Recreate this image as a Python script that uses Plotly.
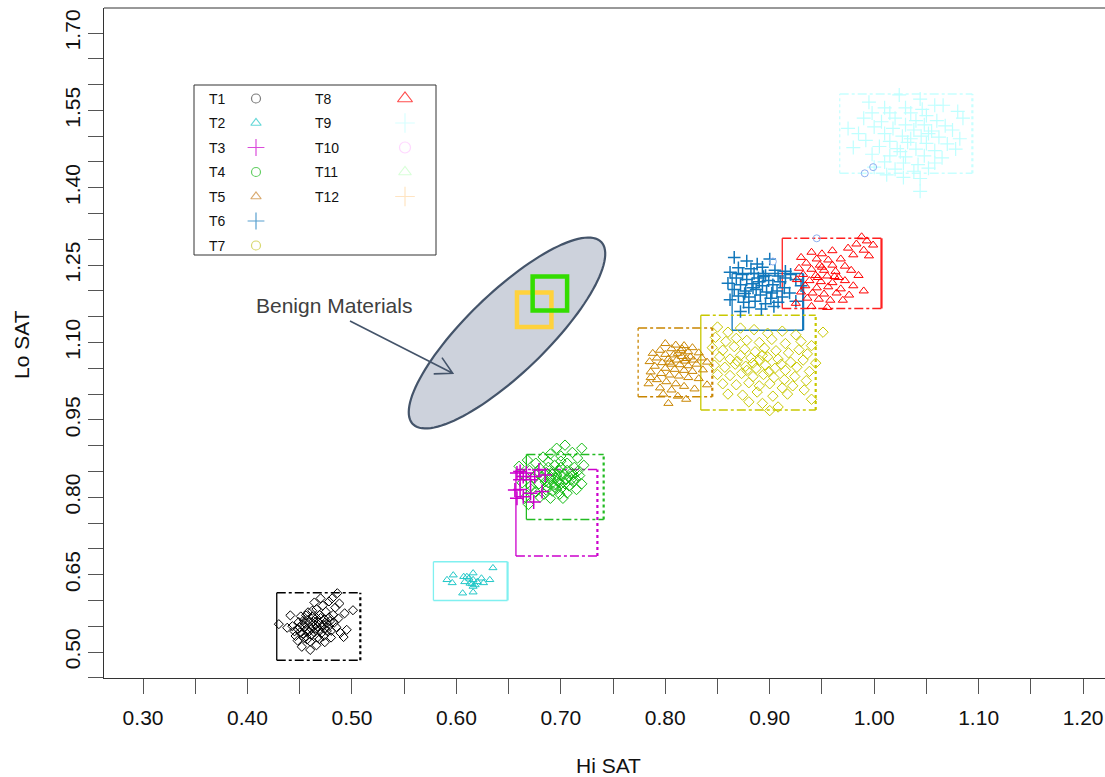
import numpy as np
import plotly.graph_objects as go

# ---------------- data ----------------
t1_x = [0.430,0.501,0.486,0.460,0.452,0.448,0.441,0.445,0.450,0.455,0.458,0.462,0.465,0.468,0.470,0.473,0.476,0.479,0.482,0.485,
        0.489,0.492,0.495,0.472,0.478,0.466,0.458,0.451,0.446,0.454,0.461,0.467,0.474,0.480,0.457,0.463,0.469,0.475,0.484,0.488,
        0.453,0.460,0.466,0.471,0.477,0.483,0.487,0.456,0.449,0.443,0.464,0.470,0.481,0.493,0.438,0.459,0.467,0.474,0.462,0.455,
        0.448,0.452,0.456,0.459,0.461,0.464,0.466,0.468,0.471,0.473,0.476,0.478,0.480,0.454,0.462,0.469,0.457,0.474,0.465,0.450]
t1_y = [0.554,0.581,0.614,0.504,0.510,0.522,0.571,0.540,0.548,0.556,0.562,0.551,0.545,0.558,0.566,0.552,0.541,0.560,0.572,0.548,
        0.537,0.529,0.543,0.590,0.598,0.583,0.577,0.569,0.531,0.527,0.533,0.528,0.519,0.528,0.541,0.560,0.572,0.578,0.586,0.594,
        0.535,0.520,0.513,0.537,0.548,0.557,0.565,0.571,0.558,0.550,0.596,0.604,0.604,0.575,0.547,0.540,0.549,0.563,0.569,0.548,
        0.545,0.553,0.530,0.558,0.545,0.538,0.566,0.542,0.550,0.531,0.556,0.567,0.541,0.562,0.580,0.525,0.524,0.545,0.552,0.538]

t2_x = [0.591,0.597,0.596,0.607,0.616,0.608,0.613,0.616,0.624,0.626,0.632,0.635,0.606,0.616,0.616,0.612,0.620,0.610,0.615,0.618]
t2_y = [0.640,0.649,0.634,0.646,0.653,0.636,0.633,0.640,0.643,0.634,0.640,0.663,0.614,0.616,0.627,0.643,0.636,0.646,0.632,0.630]

t3_x = [0.658,0.661,0.664,0.656,0.658,0.661,0.667,0.671,0.674,0.675,0.671,0.682,0.664,0.685,0.679,0.661]
t3_y = [0.847,0.850,0.840,0.814,0.798,0.815,0.847,0.834,0.791,0.840,0.808,0.811,0.801,0.843,0.853,0.834]

t4_x = [0.704,0.696,0.720,0.711,0.690,0.683,0.700,0.716,0.668,0.676,0.688,0.694,0.706,0.713,0.722,0.660,0.670,0.680,0.686,0.698,
        0.703,0.710,0.718,0.665,0.674,0.682,0.690,0.697,0.705,0.712,0.720,0.663,0.671,0.679,0.687,0.694,0.701,0.708,0.715,0.676,
        0.684,0.692,0.699,0.706,0.690,0.702,0.669,0.680,0.696,0.700,0.685,0.692,0.708,0.678,0.714,0.696,0.672,0.688,0.700,0.666,
        0.690,0.695,0.700,0.688,0.698,0.704,0.684,0.692,0.706,0.712,0.694,0.686,0.710,0.700,0.716]
t4_y = [0.901,0.895,0.895,0.887,0.884,0.878,0.880,0.876,0.872,0.866,0.869,0.862,0.866,0.858,0.862,0.860,0.852,0.856,0.848,0.852,
        0.845,0.848,0.842,0.842,0.838,0.840,0.836,0.832,0.834,0.830,0.826,0.828,0.822,0.826,0.820,0.824,0.818,0.822,0.815,0.810,
        0.806,0.812,0.806,0.808,0.798,0.798,0.786,0.800,0.843,0.826,0.830,0.845,0.840,0.846,0.836,0.816,0.815,0.858,0.870,0.800,
        0.840,0.838,0.842,0.828,0.828,0.826,0.836,0.850,0.852,0.844,0.820,0.814,0.834,0.858,0.850]

t5_x = [0.800,0.810,0.818,0.826,0.806,0.795,0.815,0.822,0.832,0.788,0.800,0.808,0.816,0.824,0.835,0.792,0.803,0.811,0.819,0.827,
        0.785,0.797,0.806,0.814,0.822,0.830,0.840,0.790,0.800,0.809,0.818,0.826,0.836,0.786,0.796,0.804,0.813,0.822,0.832,0.792,
        0.801,0.810,0.784,0.795,0.806,0.818,0.828,0.840,0.798,0.812,0.820,0.803,0.786,0.812,0.820,0.804,0.816]
t5_y = [1.098,1.095,1.094,1.090,1.088,1.085,1.084,1.082,1.080,1.079,1.077,1.076,1.073,1.072,1.070,1.070,1.068,1.066,1.064,1.066,
        1.063,1.061,1.058,1.057,1.055,1.058,1.062,1.054,1.050,1.048,1.046,1.044,1.047,1.043,1.040,1.037,1.035,1.032,1.030,1.028,
        1.024,1.020,1.020,1.012,1.008,1.015,1.010,1.018,1.000,0.996,0.990,0.982,1.032,1.079,1.069,1.062,1.088]

t6_x = [0.866,0.878,0.900,0.888,0.870,0.882,0.893,0.905,0.915,0.862,0.874,0.885,0.896,0.908,0.920,0.868,0.878,0.889,0.899,0.910,
        0.925,0.860,0.872,0.883,0.893,0.903,0.914,0.930,0.866,0.877,0.887,0.897,0.907,0.919,0.870,0.880,0.891,0.901,0.912,0.862,
        0.875,0.886,0.896,0.908,0.880,0.892,0.904,0.872,0.925,0.890,0.884,0.894,0.902,0.876,0.915]
t6_y = [1.265,1.258,1.262,1.252,1.245,1.243,1.246,1.240,1.238,1.236,1.232,1.234,1.230,1.229,1.232,1.225,1.222,1.225,1.220,1.218,
        1.222,1.215,1.212,1.214,1.210,1.212,1.206,1.210,1.203,1.200,1.203,1.198,1.200,1.196,1.190,1.188,1.192,1.186,1.188,1.183,
        1.178,1.180,1.175,1.178,1.168,1.165,1.170,1.160,1.180,1.218,1.206,1.228,1.196,1.195,1.225]

t7_x = [0.850,0.860,0.872,0.885,0.898,0.912,0.925,0.951,0.848,0.858,0.868,0.878,0.890,0.902,0.915,0.930,0.940,0.845,0.855,0.866,
        0.876,0.886,0.895,0.906,0.918,0.928,0.936,0.852,0.862,0.872,0.882,0.890,0.898,0.908,0.920,0.932,0.944,0.847,0.857,0.867,
        0.877,0.887,0.896,0.905,0.915,0.926,0.938,0.850,0.862,0.873,0.884,0.894,0.904,0.914,0.924,0.935,0.855,0.868,0.880,0.890,
        0.900,0.912,0.922,0.933,0.860,0.874,0.888,0.903,0.917,0.880,0.893,0.900,0.908,0.940,0.884,0.893,0.878,0.899,0.869,0.911]
t7_y = [1.130,1.120,1.128,1.125,1.118,1.122,1.115,1.120,1.110,1.102,1.108,1.104,1.100,1.106,1.098,1.102,1.094,1.090,1.085,1.092,
        1.087,1.082,1.089,1.084,1.080,1.086,1.078,1.072,1.068,1.075,1.070,1.066,1.072,1.068,1.062,1.066,1.060,1.056,1.052,1.058,
        1.054,1.050,1.056,1.050,1.046,1.052,1.044,1.038,1.036,1.040,1.034,1.038,1.032,1.028,1.034,1.026,1.020,1.018,1.022,1.016,
        1.020,1.012,1.016,1.008,1.000,0.998,1.004,0.996,1.000,0.985,0.982,0.968,0.975,0.990,1.060,1.075,1.046,1.044,1.064,1.058]

t8_x = [0.988,0.993,0.983,0.999,0.975,0.990,0.980,0.995,0.960,0.950,0.940,0.930,0.945,0.956,0.968,0.935,0.948,0.960,0.972,0.928,
        0.940,0.952,0.963,0.978,0.932,0.944,0.955,0.966,0.985,0.926,0.938,0.949,0.960,0.972,0.934,0.945,0.956,0.968,0.980,0.930,
        0.941,0.952,0.964,0.976,0.936,0.947,0.958,0.990,0.925,0.940,0.955,0.970,0.946,0.950,0.962]
t8_y = [1.305,1.297,1.291,1.289,1.283,1.279,1.270,1.268,1.278,1.272,1.275,1.265,1.262,1.260,1.262,1.254,1.250,1.250,1.248,1.244,
        1.242,1.240,1.238,1.240,1.232,1.230,1.229,1.226,1.230,1.222,1.220,1.218,1.216,1.220,1.210,1.206,1.208,1.204,1.210,1.198,
        1.196,1.194,1.196,1.192,1.186,1.184,1.182,1.200,1.176,1.170,1.168,1.182,1.226,1.246,1.228]

t9_x = [1.024,1.044,0.995,1.058,1.066,1.010,1.030,1.046,1.080,0.998,1.015,1.035,1.050,1.085,0.990,1.020,1.040,1.060,1.007,1.030,
        1.048,1.068,0.975,1.000,1.018,1.038,1.055,1.075,0.985,1.010,1.027,1.045,1.062,1.082,0.992,1.015,1.032,1.050,1.070,0.980,
        1.005,1.022,1.040,1.058,1.078,0.998,1.015,1.030,1.048,1.065,1.010,1.028,1.042,1.058,1.020,1.038,1.052,1.000,1.028,1.044,
        1.012,1.044,1.035,1.025,1.052]
t9_y = [1.580,1.572,1.566,1.560,1.560,1.555,1.555,1.552,1.548,1.545,1.545,1.545,1.540,1.535,1.535,1.535,1.530,1.530,1.528,1.522,
        1.522,1.520,1.515,1.518,1.515,1.512,1.510,1.512,1.505,1.505,1.500,1.500,1.498,1.495,1.492,1.490,1.488,1.486,1.485,1.478,
        1.480,1.476,1.475,1.472,1.475,1.465,1.462,1.460,1.462,1.458,1.450,1.448,1.445,1.448,1.436,1.432,1.438,1.440,1.420,1.418,
        1.425,1.393,1.495,1.470,1.505]

t10_x = [0.991, 0.999, 0.945, 0.903]
t10_y = [1.428, 1.440, 1.302, 1.257]

# bounding boxes of each group
box_names = ["T1", "T2", "T3", "T4", "T5", "T6", "T7", "T8", "T9"]
box_x0 = [0.428, 0.578, 0.657, 0.667, 0.774, 0.864, 0.834, 0.912, 0.967]
box_x1 = [0.508, 0.649, 0.735, 0.741, 0.845, 0.932, 0.944, 1.007, 1.094]
box_y0 = [0.484, 0.600, 0.686, 0.757, 0.995, 1.124, 0.969, 1.166, 1.428]
box_y1 = [0.615, 0.675, 0.854, 0.883, 1.128, 1.234, 1.153, 1.302, 1.582]

# benign-material regions (yellow, green)
benign_x0 = [0.658, 0.673]
benign_x1 = [0.691, 0.706]
benign_y0 = [1.130, 1.162]
benign_y1 = [1.197, 1.228]

legend_names = ["T1", "T2", "T3", "T4", "T5", "T6", "T7", "T8", "T9", "T10", "T11", "T12"]

x_title = "Hi SAT"
y_title = "Lo SAT"

# ---------------- styling ----------------
FONT = "Liberation Sans Narrow, Arial Narrow, Liberation Sans, Arial, sans-serif"
W, H = 1105, 777
L, R, T, B = 104, 1105, 8, 678   # plot area in page pixels
X_RANGE = [0.2626, 1.2210]
Y_RANGE = [0.4496, 1.7485]


def px_to_paper(px, py):
    return (px - L) / (R - L), (B - py) / (B - T)


colors = {"T1": "#000000", "T2": "#22C8C8", "T3": "#CC00CC", "T4": "#11BB11", "T5": "#C98500",
          "T6": "#1177BB", "T7": "#C8C800", "T8": "#FF0000", "T9": "#BFFFFF", "T10": "#8FB0F0"}
box_colors = {"T1": "#000000", "T2": "#80F0F0", "T3": "#CC00CC", "T4": "#22BB22", "T5": "#C98500",
              "T6": "#1177BB", "T7": "#C8C800", "T8": "#FF2020", "T9": "#C8FFFF"}
legend_colors = ["#444444", "#22C8C8", "#CC00CC", "#22BB22", "#C98530", "#1177BB", "#C8C830",
                 "#FF0000", "#C8FFFF", "#FFC8FF", "#C8FFC8", "#FFD8A8"]
legend_symbols = ["circle-open", "triangle-up-open", "cross-thin-open", "circle-open", "triangle-up-open",
                  "cross-thin-open", "circle-open", "triangle-up-open", "cross-thin-open", "circle-open",
                  "triangle-up-open", "cross-thin-open"]

series = [
    ("T1", t1_x, t1_y, "diamond-open", 7, 1),
    ("T2", t2_x, t2_y, "triangle-up-open", 7, 1),
    ("T4", t4_x, t4_y, "diamond-open", 8, 1),
    ("T3", t3_x, t3_y, "cross-thin-open", 10, 1.5),
    ("T5", t5_x, t5_y, "triangle-up-open", 8, 1),
    ("T7", t7_x, t7_y, "diamond-open", 8, 1),
    ("T6", t6_x, t6_y, "cross-thin-open", 9, 1.5),
    ("T8", t8_x, t8_y, "triangle-up-open", 8, 1),
    ("T9", t9_x, t9_y, "cross-thin-open", 10, 1.2),
    ("T10", t10_x, t10_y, "circle-open", 7, 1),
]

fig = go.Figure()
for name, xs, ys, sym, size, lw in series:
    c = colors[name]
    fig.add_trace(go.Scatter(
        x=xs, y=ys, mode="markers", name=name, showlegend=False, hoverinfo="skip",
        marker=dict(symbol=sym, size=size, color=c, line=dict(color=c, width=lw))))

shapes = []
# group boxes: left side solid, right dotted, top/bottom dash-dot
side_style = {"T2": ("solid", "solid", "solid"), "T6": ("solid", "solid", "solid"),
              "T8": ("solid", "solid", "dashdot"), "T5": ("dot", "dot", "dashdot"),
              "T9": ("dot", "dot", "dashdot")}
for i, n in enumerate(box_names):
    c = box_colors[n]
    left, right, hor = side_style.get(n, ("solid", "dot", "dashdot"))
    x0, x1, y0, y1 = box_x0[i], box_x1[i], box_y0[i], box_y1[i]
    for (xa, ya, xb, yb, d, w) in [(x0, y0, x0, y1, left, 1.3), (x1, y0, x1, y1, right, 2.2),
                                   (x0, y1, x1, y1, hor, 1.5), (x0, y0, x1, y0, hor, 1.5)]:
        shapes.append(dict(type="line", xref="x", yref="y", x0=xa, y0=ya, x1=xb, y1=yb,
                           line=dict(color=c, width=w, dash=d), layer="below"))

# legend box (below traces so the legend symbols show)
shapes.append(dict(type="rect", xref="x2", yref="y2", x0=194, x1=436, y0=85, y1=255,
                   line=dict(color="#333333", width=1), fillcolor="white", layer="below"))

# Benign ellipse (pixel space on helper axes)
cx, cy, a, b, th = 507.0, 333.0, 131.0, 40.0, np.deg2rad(44.0)
t = np.linspace(0, 2 * np.pi, 120)
ex = cx + a * np.cos(t) * np.cos(th) + b * np.sin(t) * np.sin(th)
ey = cy - a * np.cos(t) * np.sin(th) + b * np.sin(t) * np.cos(th)
path = "M " + " L ".join(f"{px:.2f},{py:.2f}" for px, py in zip(ex, ey)) + " Z"
shapes.append(dict(type="path", xref="x2", yref="y2", path=path, fillcolor="#CDD2DC",
                   line=dict(color="#44546A", width=2.2), layer="above"))

# benign squares
for i, c in enumerate(["#FFD23C", "#33DD00"]):
    shapes.append(dict(type="rect", xref="x", yref="y", x0=benign_x0[i], x1=benign_x1[i],
                       y0=benign_y0[i], y1=benign_y1[i], line=dict(color=c, width=4.5), layer="above"))

# arrow from label to ellipse
tip = (452.7, 373.3)
start = (350.0, 321.0)
ang = np.arctan2(tip[1] - start[1], tip[0] - start[0])
hl = 19
w1 = (tip[0] - hl * np.cos(ang - 0.5), tip[1] - hl * np.sin(ang - 0.5))
w2 = (tip[0] - hl * np.cos(ang + 0.5), tip[1] - hl * np.sin(ang + 0.5))
shapes.append(dict(type="path", xref="x2", yref="y2",
                   path=f"M {start[0]},{start[1]} L {tip[0]},{tip[1]} M {w1[0]:.2f},{w1[1]:.2f} L {tip[0]},{tip[1]} L {w2[0]:.2f},{w2[1]:.2f}",
                   line=dict(color="#44546A", width=1.6), layer="above"))

# frame top line
shapes.append(dict(type="line", xref="paper", yref="paper", x0=0, x1=1, y0=1, y1=1,
                   line=dict(color="#333333", width=1)))

annotations = []
# legend text and symbol positions
row0, dy = 98.5, 24.5
leg_x, leg_y = [], []
for i, n in enumerate(legend_names):
    col = 0 if i < 7 else 1
    r = i if i < 7 else i - 7
    yy = row0 + r * dy
    tx = 207 if col == 0 else 313
    annotations.append(dict(xref="x2", yref="y2", x=tx, y=yy, text=n, showarrow=False,
                            xanchor="left", yanchor="middle",
                            font=dict(family=FONT, size=14, color="#111111")))
    leg_x.append(256 if col == 0 else 405)
    leg_y.append(yy)
leg_sizes = [9, 9, 12, 9, 9, 12, 9, 13, 14, 11, 11, 14]
fig.add_trace(go.Scatter(x=leg_x, y=leg_y, xaxis="x2", yaxis="y2", mode="markers", showlegend=False,
                         hoverinfo="skip",
                         marker=dict(symbol=legend_symbols, size=leg_sizes, color=legend_colors,
                                     line=dict(color=legend_colors, width=1.2))))

annotations.append(dict(xref="x2", yref="y2", x=334, y=305, text="Benign Materials", showarrow=False,
                        xanchor="center", yanchor="middle",
                        font=dict(family=FONT, size=21, color="#404040")))
hx, hy = px_to_paper(608, 765)
annotations.append(dict(xref="paper", yref="paper", x=hx, y=hy, text=x_title, showarrow=False,
                        xanchor="center", yanchor="middle",
                        font=dict(family=FONT, size=21, color="#111111")))
lx, ly = px_to_paper(22, 345)
annotations.append(dict(xref="paper", yref="paper", x=lx, y=ly, text=y_title, showarrow=False,
                        textangle=-90, xanchor="center", yanchor="middle",
                        font=dict(family=FONT, size=21, color="#111111")))

fig.update_layout(
    width=W, height=H,
    margin=dict(l=L, r=W - R, t=T, b=H - B, pad=0),
    paper_bgcolor="white", plot_bgcolor="white",
    showlegend=False,
    shapes=shapes, annotations=annotations,
    xaxis=dict(range=X_RANGE, domain=[0, 1], showgrid=False, zeroline=False,
               showline=True, linecolor="#333333", linewidth=1, mirror=False,
               tickmode="linear", tick0=0.3, dtick=0.1, tickformat=".2f",
               ticks="outside", ticklen=15, tickcolor="#555555", tickwidth=1,
               minor=dict(tickmode="linear", tick0=0.3, dtick=0.05, ticks="outside", ticklen=15,
                          tickcolor="#555555", tickwidth=1),
               tickfont=dict(family=FONT, size=21, color="#111111"), ticklabelstandoff=6),
    yaxis=dict(range=Y_RANGE, domain=[0, 1], showgrid=False, zeroline=False,
               showline=True, linecolor="#333333", linewidth=1, mirror=False,
               tickmode="linear", tick0=0.5, dtick=0.15, tickformat=".2f", tickangle=-90,
               ticks="outside", ticklen=15, tickcolor="#555555", tickwidth=1,
               minor=dict(tickmode="linear", tick0=0.5, dtick=0.05, ticks="outside", ticklen=15,
                          tickcolor="#555555", tickwidth=1),
               tickfont=dict(family=FONT, size=21, color="#111111"), ticklabelstandoff=0),
    xaxis2=dict(overlaying="x", range=[L, R], visible=False, fixedrange=True),
    yaxis2=dict(overlaying="y", range=[B, T], visible=False, fixedrange=True),
)

fig.write_html("out.html", config={"displayModeBar": False, "staticPlot": True},
               post_script="document.body.style.margin='0px';document.body.style.overflow='hidden';")
